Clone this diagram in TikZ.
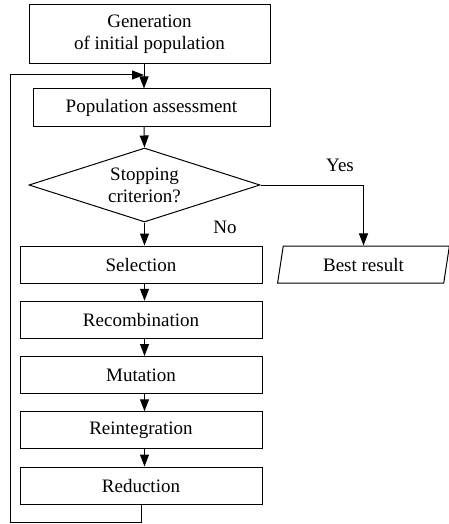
\documentclass[tikz,border=0pt]{standalone}
\usepackage{fontspec}
\setmainfont{Liberation Serif}
\usetikzlibrary{shapes.geometric,arrows.meta}

\tikzset{
  box/.style={rectangle, draw, line width=1pt, minimum height=37pt, inner sep=0pt, align=center},
  arr/.style={line width=1pt, -{Triangle[length=12pt,width=9pt]}},
  lbl/.style={inner sep=0pt}
}

\begin{document}
\begin{tikzpicture}[x=1pt, y=1pt, font=\fontsize{19}{22}\selectfont]
        \useasboundingbox (0,0) rectangle (448,-524);

        \path (149.5,-34.5) node[box, minimum width=241pt, minimum height=59pt] (gen) {Generation\\of initial population};
        \path (151.5,-107.5) node[box, minimum width=237pt] (pop) {Population assessment};
        \path (144.5,-185) node[diamond, draw, line width=1pt, aspect=3.1, inner sep=0pt,
          minimum width=231pt, minimum height=74pt, align=center] (stop) {Stopping\\criterion?};

        \foreach \name/\txt [count=\i from 0] in {sel/Selection, rec/Recombination, mut/Mutation, rein/Reintegration, red/Reduction}
        {
          \path (141,-264.5-\i*55.25) node[box, minimum width=242pt] (\name) {\txt};
        }

        \path (363.5,-264.5) node[trapezium, draw, line width=1pt, trapezium left angle=78, trapezium right angle=102,
          trapezium stretches=true, minimum width=173pt, minimum height=37pt, inner sep=0pt] (best) {Best result};

        \path (340,-165) node[lbl] (yes) {Yes};
        \path (225,-227) node[lbl] (no) {No};

        % loop back
        \coordinate (join) at (144,-75);
        \coordinate (loopbl) at (10,-522);
        \coordinate (looptl) at (10,-75);

        \draw [arr] (gen.south -| join) -- (pop.north -| join);
        \draw [arr] (pop.south -| join) -- (stop.north);
        \draw [arr] (stop.south) -- (sel.north -| stop);
        \draw [arr] (stop.east) -| (best.north);
        \draw [arr] (sel.south -| stop) -- (rec.north -| stop);
        \draw [arr] (rec.south -| stop) -- (mut.north -| stop);
        \draw [arr] (mut.south -| stop) -- (rein.north -| stop);
        \draw [arr] (rein.south -| stop) -- (red.north -| stop);
        \draw [arr] (red.south) |- (loopbl) -- (looptl) -- (join);
      \end{tikzpicture}
\end{document}
